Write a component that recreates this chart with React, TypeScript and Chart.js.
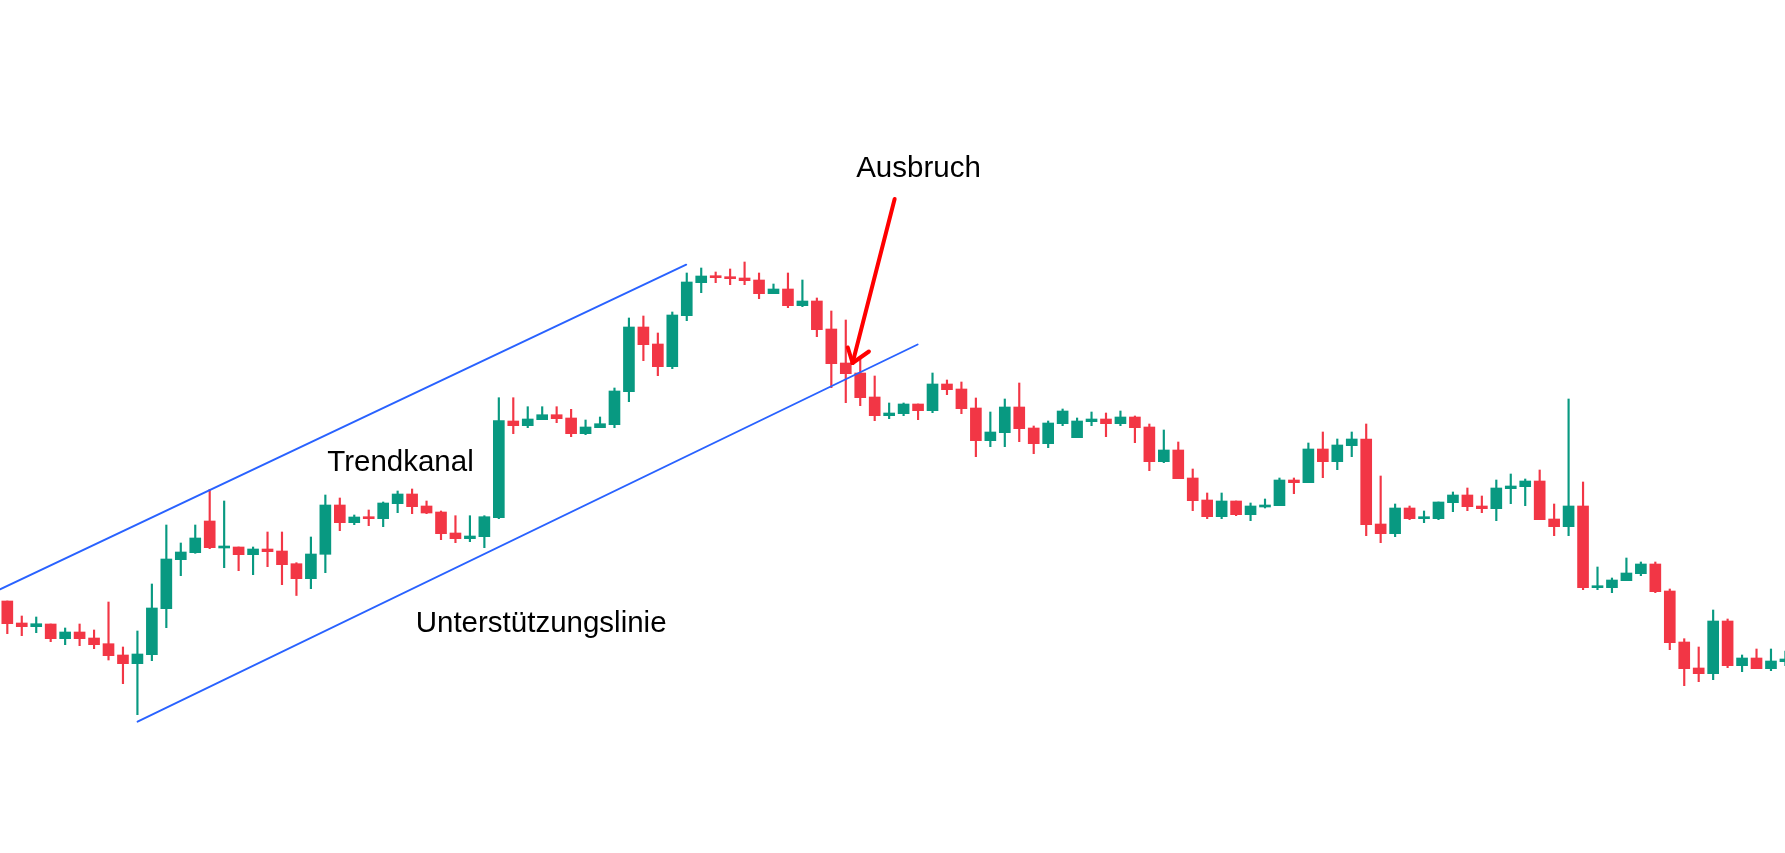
import React, { useEffect, useRef } from "react";
import { Chart, registerables } from "chart.js";

Chart.register(...registerables);

// Candle OHLC values (arbitrary price units)
const opens = [
  299, 277, 273.3, 276, 261.3, 268, 262, 256.3, 245, 236.3,
  245.3, 291.3, 340.3, 347.3, 379, 352, 353, 345.3, 351, 349,
  336.3, 321.3, 345.7, 395, 377.3, 383, 381.3, 396.3, 406, 394,
  388, 367, 361.3, 363.3, 382.3, 479, 474.3, 480.3, 485.3, 482,
  466.3, 472.3, 475.3, 508.3, 573, 556, 533.3, 584.3, 617.3, 624,
  623, 622, 620, 606.3, 611, 594.3, 599, 571, 537, 527,
  503, 484.3, 486.3, 496, 489.3, 516, 511, 492, 459.3, 467.3,
  493, 472, 456.3, 476.3, 462.3, 478.3, 481, 476.3, 483, 473,
  438.3, 450, 422, 400, 383.3, 399, 385.3, 393, 394.3, 420,
  417.3, 451, 438.3, 454.3, 461, 376, 366.3, 392, 381.3, 381.3,
  397.3, 405, 394, 391.3, 411.3, 413.3, 419, 381, 373.3, 394,
  312.3, 312.3, 319.3, 326.3, 336, 309, 258, 232, 226.3, 279,
  234.3, 242, 231.3, 238.3,
];
const highs = [
  299, 284, 283, 276, 272, 276, 270, 298, 253, 269,
  316, 375, 357, 375, 410.7, 399, 353, 353, 368, 368,
  337.3, 363, 405, 402, 385, 390, 398, 409, 411, 399,
  389, 384.3, 384.3, 384.3, 502.3, 502.3, 493.3, 493.3, 493.3, 490.7,
  480, 483, 512, 582, 584, 567, 588, 627, 632, 628,
  631, 638, 627, 616, 627, 620, 602, 589, 580, 541.7,
  524, 497, 497, 496, 527, 520, 518, 502, 488, 501,
  517, 474, 479, 491, 482, 488, 487, 489, 484, 476,
  470, 458, 431, 407, 407, 399, 397, 401, 422, 422,
  457, 468, 461, 468, 476, 424, 396, 394, 389, 398,
  408, 412, 404, 420, 426, 421, 430, 396, 501, 418,
  333, 322, 342, 338, 338, 311, 261.3, 253, 290, 281,
  245, 251, 251, 249,
];
const lows = [
  266.3, 264.3, 267.3, 258.3, 255.3, 254.3, 251.3, 240, 216.3, 185.3,
  239.3, 272.3, 324.3, 346.7, 351.3, 332.3, 329.3, 325.3, 333.3, 315.3,
  304.5, 311.3, 327.3, 369.3, 375.3, 374.3, 373.3, 387.3, 386.3, 386.3,
  360.3, 357.3, 358.3, 352.3, 381.3, 466.3, 472.3, 480.3, 477.3, 463.3,
  465.3, 472.3, 472.3, 498.3, 539.3, 524.3, 531.3, 579.3, 607.3, 617.3,
  615.3, 615.3, 601.3, 606.3, 592.3, 593.3, 563.3, 512.3, 497.3, 494.3,
  479.3, 481.3, 484.3, 480.3, 487.3, 505.3, 486.3, 443.3, 453.3, 453.3,
  458.3, 446.3, 452.3, 474.3, 462.3, 474.3, 463.3, 474.3, 457.3, 429.3,
  437.3, 421.3, 389.3, 381.3, 381.3, 384.3, 379.3, 392, 394.3, 406.3,
  417.3, 422.3, 430.3, 443.3, 364.3, 357.3, 363.3, 380.3, 377.3, 380.3,
  388.3, 389.3, 387.3, 379.3, 396.3, 394.3, 380.3, 364.3, 364.3, 310.3,
  310.3, 307.3, 319.3, 324.3, 307.3, 250.3, 214.3, 218.3, 220.3, 232.3,
  228.3, 231.3, 229.3, 234.3,
];
const closes = [
  276.3, 273.3, 276.3, 261.3, 268, 261.3, 255.3, 244.3, 236.3, 246,
  292, 341, 348, 362, 352.3, 353, 345.3, 351, 348.3, 335.3,
  321.3, 346, 395, 377.3, 383, 381.3, 397, 406, 393.3, 387,
  366.3, 361.3, 364, 383.3, 479.3, 474.3, 481, 485.3, 481.3, 466.3,
  473, 476.3, 509, 573, 555.3, 533.3, 585, 618, 624, 622.3,
  621.3, 619.3, 606.3, 611, 594.3, 599, 570.3, 536.3, 526.3, 502.3,
  484.3, 487, 496, 489.3, 516, 510.3, 491.3, 459.3, 468, 493,
  471.3, 456.3, 477, 489, 479, 481, 476.3, 483, 472.3, 438.3,
  450, 421.3, 399.3, 383.3, 399, 385.3, 394, 395, 420, 417.3,
  451, 438.3, 455, 461, 375.3, 366.3, 392, 381.3, 382.3, 398,
  405, 393.3, 391.3, 412, 414, 419, 380.3, 373.3, 394, 312.3,
  313.3, 320, 327, 336, 308.3, 257.3, 231.3, 226.3, 279, 234.3,
  242, 231.3, 239, 241,
];

// Trend channel lines (x in candle index, y in price)
const upperLineX = [-0.506, 46.96];
const upperLineY = [310.7, 635.3];
const supportLineX = [9.01, 62.97];
const supportLineY = [178.3, 555.5];

// Breakout arrow (shaft + two head wings)
const arrowShaftX = [61.38, 58.47];
const arrowShaftY = [701, 537];
const arrowWingLeftX = [58.14, 58.47];
const arrowWingLeftY = [552.5, 537];
const arrowWingRightX = [59.6, 58.47];
const arrowWingRightY = [548.5, 537];

// Text labels
const labelTexts = ["Trendkanal", "Unterstützungslinie", "Ausbruch"];
const labelX = [22.13, 28.25, 58.72];
const labelY = [429, 268.3, 723.3];

const UP = "#089981";
const DOWN = "#F23645";
const BLUE = "#2962FF";
const RED = "#FF0000";

function pts(xs: number[], ys: number[]) {
  return xs.map((x, i) => ({ x, y: ys[i] }));
}

const textPlugin = {
  id: "textLabels",
  afterDatasetsDraw(chart: any) {
    const { ctx, scales } = chart;
    ctx.save();
    ctx.font = '29.5px "Liberation Sans", Arial, sans-serif';
    ctx.fillStyle = "#000000";
    ctx.textAlign = "left";
    ctx.textBaseline = "alphabetic";
    labelTexts.forEach((t, i) => {
      ctx.fillText(t, scales.x.getPixelForValue(labelX[i]), scales.y.getPixelForValue(labelY[i]));
    });
    ctx.restore();
  },
};

export default function App() {
  const ref = useRef<HTMLCanvasElement | null>(null);

  useEffect(() => {
    document.body.style.margin = "0";
    document.body.style.overflow = "hidden";
    const canvas = ref.current;
    if (!canvas) return;
    const colors = opens.map((o, i) => (closes[i] >= o ? UP : DOWN));
    const wickData = opens.map((_, i) => ({ x: i, y: [lows[i], highs[i]] }));
    const bodyData = opens.map((o, i) => ({ x: i, y: [o, closes[i]] }));

    const lineDs = (xs: number[], ys: number[], color: string, width: number) => ({
      type: "line" as const,
      data: pts(xs, ys),
      borderColor: color,
      borderWidth: width,
      pointRadius: 0,
      tension: 0,
      fill: false,
      order: 0,
      borderCapStyle: "round" as const,
    });

    const chart = new Chart(canvas, {
      type: "bar",
      data: {
        datasets: [
          {
            type: "bar",
            data: bodyData as any,
            backgroundColor: colors,
            barThickness: 11,
            minBarLength: 2,
            grouped: false,
            borderWidth: 0,
            order: 1,
          } as any,
          {
            type: "bar",
            data: wickData as any,
            backgroundColor: colors,
            barThickness: 1.5,
            grouped: false,
            borderWidth: 0,
            order: 2,
          } as any,
          lineDs(upperLineX, upperLineY, BLUE, 1.9),
          lineDs(supportLineX, supportLineY, BLUE, 1.9),
          lineDs(arrowShaftX, arrowShaftY, RED, 4),
          lineDs(arrowWingLeftX, arrowWingLeftY, RED, 4),
          lineDs(arrowWingRightX, arrowWingRightY, RED, 4),
        ],
      },
      options: {
        responsive: false,
        animation: false,
        devicePixelRatio: 1,
        layout: { padding: 0 },
        plugins: { legend: { display: false }, tooltip: { enabled: false } },
        scales: {
          x: {
            type: "linear",
            min: -0.506,
            max: 122.97,
            offset: false,
            bounds: "data",
            display: false,
            grid: { offset: false },
          },
          y: { type: "linear", min: 47, max: 900, display: false },
        },
      },
      plugins: [textPlugin],
    });
    return () => chart.destroy();
  }, []);

  return (
    <div style={{ width: 1785, height: 853, background: "#ffffff" }}>
      <canvas ref={ref} width={1785} height={853} style={{ display: "block" }} />
    </div>
  );
}
